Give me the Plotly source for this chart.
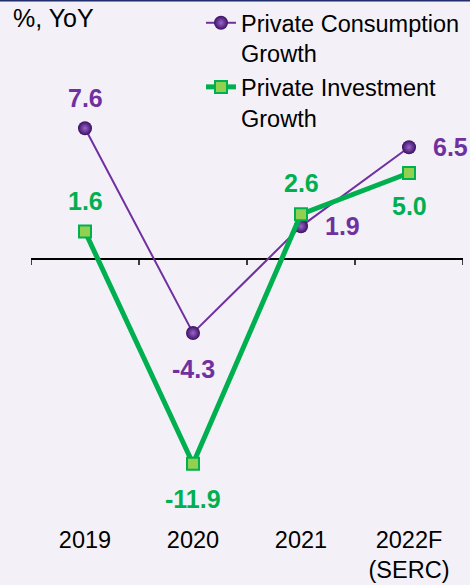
import plotly.graph_objects as go

categories = ["2019", "2020", "2021", "2022F<br>(SERC)"]
consumption = [7.6, -4.3, 1.9, 6.5]
investment = [1.6, -11.9, 2.6, 5.0]
cons_name = "Private Consumption<br>Growth"
inv_name = "Private Investment<br>Growth"

# label placement (pixel shifts) per point
cons_shift = [(0, 30), (0, -36), (41, 0), (41, 0)]
inv_shift = [(0, 30), (0, -35), (0, 31), (0, -33)]

PURPLE = "#7030A0"
GREEN = "#00B050"
LGREEN = "#92D050"
BG = "#F3F1F7"
FONT = "Liberation Sans, Arial, sans-serif"

W, H = 470, 585
L, R, T, B = 31, 7, 40, 62
ppu = 17.2
zero_px = 259
plot_h = H - T - B
y_top = (zero_px - T) / ppu
y_bot = -(T + plot_h - zero_px) / ppu

x = list(range(len(categories)))

fig = go.Figure()
fig.add_trace(go.Scatter(
    x=x, y=consumption, name=cons_name, mode="lines+markers",
    line=dict(color=PURPLE, width=2),
    marker=dict(symbol="circle", size=14, color="#3A0F63",
                gradient=dict(type="radial", color="#9A66CC"),
                line=dict(width=0)),
))
fig.add_trace(go.Scatter(
    x=x, y=investment, name=inv_name, mode="lines+markers",
    line=dict(color=GREEN, width=5),
    marker=dict(symbol="square", size=12, color=LGREEN,
                line=dict(color=GREEN, width=2)),
))

annotations = []
for i, v in enumerate(consumption):
    dx, dy = cons_shift[i]
    annotations.append(dict(x=i, y=v, xref="x", yref="y", text=f"{v:.1f}",
                            showarrow=False, xshift=dx, yshift=dy,
                            font=dict(family=FONT, size=25, color=PURPLE, weight="bold")))
for i, v in enumerate(investment):
    dx, dy = inv_shift[i]
    annotations.append(dict(x=i, y=v, xref="x", yref="y", text=f"{v:.1f}",
                            showarrow=False, xshift=dx, yshift=dy,
                            font=dict(family=FONT, size=25, color=GREEN, weight="bold")))
annotations.append(dict(text="%, YoY", xref="paper", yref="paper",
                        x=-(L - 11) / (W - L - R), y=1 + (T - 18) / plot_h,
                        xanchor="left", yanchor="middle", showarrow=False,
                        font=dict(family=FONT, size=25, color="black")))

shapes = []
for b in [i - 0.5 for i in range(len(categories) + 1)]:
    shapes.append(dict(type="line", xref="x", yref="y", ysizemode="pixel",
                       yanchor=0, x0=b, x1=b, y0=0, y1=-6,
                       line=dict(color="black", width=1.5)))
shapes.append(dict(type="line", xref="paper", yref="paper",
                   x0=-L / (W - L - R), x1=(W - L) / (W - L - R),
                   y0=1 + T / plot_h, y1=1 + T / plot_h,
                   line=dict(color="#1F2D6B", width=3)))

fig.update_layout(
    width=W, height=H,
    margin=dict(l=L, r=R, t=T, b=B, autoexpand=False),
    paper_bgcolor=BG, plot_bgcolor=BG,
    font=dict(family=FONT, size=24, color="black"),
    showlegend=True,
    legend=dict(xref="container", yref="container",
                x=201 / W, y=1 - 1 / H, xanchor="left", yanchor="top",
                bgcolor="rgba(0,0,0,0)", valign="top",
                font=dict(family=FONT, size=23.5, color="black"),
                tracegroupgap=0, itemwidth=30),
    xaxis=dict(range=[-0.5, len(categories) - 0.5], tickvals=x,
               ticktext=categories, showgrid=False, zeroline=False,
               showline=False, ticks="", ticklen=0, automargin=False,
               tickfont=dict(family=FONT, size=23.5, color="black")),
    yaxis=dict(range=[y_bot, y_top], showgrid=False, showticklabels=False,
               zeroline=True, zerolinecolor="black", zerolinewidth=1.5,
               showline=False, ticks="", automargin=False),
    annotations=annotations,
    shapes=shapes,
)

fig.write_html("out.html")
